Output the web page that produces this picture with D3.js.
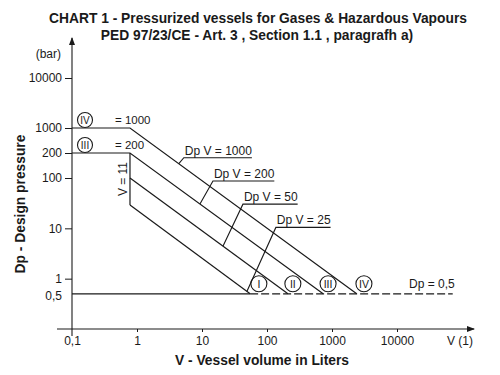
<!DOCTYPE html>
<html>
<head>
<meta charset="utf-8">
<script src="https://cdn.jsdelivr.net/npm/d3@7"></script>
<style>
  body { margin: 0; background: #fff; }
  svg { display: block; }
</style>
</head>
<body>
<div id="chart_container"></div>
<script>
// axis ticks
const xTicks = [0.1, 1, 10, 100, 1000, 10000];
const xTickLabels = ['0,1', '1', '10', '100', '1000', '10000'];
const yTicks = [0.5, 1, 10, 100, 200, 1000, 10000];
const yTickLabels = ['0,5', '1', '10', '100', '200', '1000', '10000'];

// category boundaries, points are [volume (l), pressure (bar)]
const lineIV = [[0.1, 1000], [0.78, 1000], [2400, 0.5]];
const lineIII = [[0.1, 200], [0.78, 200], [730, 0.5]];
const lineII = [[0.78, 100], [210, 0.5]];
const lineI = [[0.78, 29], [55, 0.5]];
const lineV1 = [[0.78, 200], [0.78, 29]];
const limitDp = [[0.1, 0.5], [55, 0.5]];
const limitDpDashed = [[55, 0.5], [72000, 0.5]];

// circled categories along Dp = 0,5
const categories = ['I', 'II', 'III', 'IV'];
const categoryVolumes = [75, 250, 870, 3100];

// Dp V labels, volume where the leader touches its line
const dpLabels = ['Dp V = 1000', 'Dp V = 200', 'Dp V = 50', 'Dp V = 25'];
const dpLabelVolumes = [4.4, 9.3, 21, 49];

const width = 500;
const height = 375;
const font = 'Liberation Sans, Arial, Helvetica, sans-serif';
const ink = '#1a1a1a';

var svg = d3.select('#chart_container')
    .append('svg')
    .attr('width', width)
    .attr('height', height);

// the 200 bar level sits half way between 100 and 1000 in the original drawing
const x = d3.scaleLog().domain([0.1, 10000]).range([72, 397]);
const y = d3.scaleLog().domain([0.1, 100, 200, 1000, 10000]).range([329, 178, 153, 128, 78]);

var defs = svg.append('defs');
defs.append('marker')
    .attr('id', 'arrow')
    .attr('viewBox', '0 0 8 6')
    .attr('refX', 7)
    .attr('refY', 3)
    .attr('markerWidth', 8)
    .attr('markerHeight', 6)
    .attr('markerUnits', 'userSpaceOnUse')
    .attr('orient', 'auto')
    .append('path')
    .attr('d', 'M0,0 L8,3 L0,6 Z')
    .attr('fill', ink);

// titles
svg.append('text')
    .attr('x', 258)
    .attr('y', 23)
    .attr('text-anchor', 'middle')
    .attr('font-family', font)
    .attr('font-weight', 'bold')
    .attr('font-size', '13.8px')
    .attr('fill', ink)
    .text('CHART 1 - Pressurized vessels for Gases & Hazardous Vapours');

svg.append('text')
    .attr('x', 257)
    .attr('y', 40)
    .attr('text-anchor', 'middle')
    .attr('font-family', font)
    .attr('font-weight', 'bold')
    .attr('font-size', '13.8px')
    .attr('fill', ink)
    .text('PED 97/23/CE - Art. 3 , Section 1.1 , paragrafh a)');

// axes
var xAxis = svg.append('g')
    .attr('transform', 'translate(0,' + y(0.1) + ')')
    .call(d3.axisBottom(x)
        .tickValues(xTicks)
        .tickFormat((d, i) => xTickLabels[i])
        .tickSize(3)
        .tickPadding(4));

var yAxis = svg.append('g')
    .attr('transform', 'translate(' + x(0.1) + ',0)')
    .call(d3.axisLeft(y)
        .tickValues(yTicks)
        .tickFormat((d, i) => yTickLabels[i])
        .tickSize(7)
        .tickPadding(3));

[xAxis, yAxis].forEach(function(a) {
    a.select('.domain').remove();
    a.selectAll('line').attr('stroke', ink);
    a.selectAll('text')
        .attr('font-family', font)
        .attr('font-size', '12px')
        .attr('fill', ink);
});
xAxis.selectAll('.tick').filter(d => d == 0.1).select('line').remove();
yAxis.selectAll('.tick').filter(d => d == 0.5).select('line').remove();
yAxis.selectAll('.tick').filter(d => d == 0.5).select('text').attr('dy', '0.5em');

svg.append('line')
    .attr('x1', 57)
    .attr('y1', y(0.1))
    .attr('x2', 474)
    .attr('y2', y(0.1))
    .attr('stroke', ink)
    .attr('stroke-width', 1.1)
    .attr('marker-end', 'url(#arrow)');

svg.append('line')
    .attr('x1', x(0.1))
    .attr('y1', 336)
    .attr('x2', x(0.1))
    .attr('y2', 38)
    .attr('stroke', ink)
    .attr('stroke-width', 1.1)
    .attr('marker-end', 'url(#arrow)');

svg.append('text')
    .attr('x', 61)
    .attr('y', 58)
    .attr('text-anchor', 'end')
    .attr('font-family', font)
    .attr('font-size', '12px')
    .attr('fill', ink)
    .text('(bar)');

svg.append('text')
    .attr('x', 447)
    .attr('y', 345)
    .attr('font-family', font)
    .attr('font-size', '12px')
    .attr('fill', ink)
    .text('V (1)');

svg.append('text')
    .attr('x', 262)
    .attr('y', 365)
    .attr('text-anchor', 'middle')
    .attr('font-family', font)
    .attr('font-weight', 'bold')
    .attr('font-size', '13.8px')
    .attr('fill', ink)
    .text('V - Vessel volume in Liters');

svg.append('text')
    .attr('transform', 'translate(25,204) rotate(-90)')
    .attr('text-anchor', 'middle')
    .attr('font-family', font)
    .attr('font-weight', 'bold')
    .attr('font-size', '13.8px')
    .attr('fill', ink)
    .text('Dp - Design pressure');

// boundary lines
const line = d3.line()
    .x(d => x(d[0]))
    .y(d => y(d[1]));

const solidLines = [lineIV, lineIII, lineII, lineI, lineV1, limitDp];
const diagonals = [lineIV, lineIII, lineII, lineI];

svg.selectAll('.boundary')
    .data(solidLines)
    .enter()
    .append('path')
    .attr('class', 'boundary')
    .attr('d', line)
    .attr('fill', 'none')
    .attr('stroke', ink)
    .attr('stroke-width', 1.2);

svg.append('path')
    .attr('d', line(limitDpDashed))
    .attr('fill', 'none')
    .attr('stroke', ink)
    .attr('stroke-width', 1.2)
    .attr('stroke-dasharray', '8,3');

svg.append('text')
    .attr('x', 409)
    .attr('y', 288)
    .attr('font-family', font)
    .attr('font-size', '12px')
    .attr('fill', ink)
    .text('Dp = 0,5');

// level labels on the horizontal parts
const levels = [
    { text: '= 1000', p: 1000, mark: 'IV' },
    { text: '= 200', p: 200, mark: 'III' }
];

for (let i = 0; i < levels.length; i++) {
    svg.append('text')
        .attr('x', x(0.78) - 15)
        .attr('y', y(levels[i].p) - 4)
        .attr('font-family', font)
        .attr('font-size', '11.5px')
        .attr('fill', ink)
        .text(levels[i].text);

    svg.append('circle')
        .attr('cx', x(0.1) + 13)
        .attr('cy', y(levels[i].p) - 8)
        .attr('r', 7.5)
        .attr('fill', '#fff')
        .attr('stroke', ink)
        .attr('stroke-width', 1.1);

    svg.append('text')
        .attr('x', x(0.1) + 13)
        .attr('y', y(levels[i].p) - 8)
        .attr('dy', '0.36em')
        .attr('text-anchor', 'middle')
        .attr('font-family', font)
        .attr('font-size', '10px')
        .attr('fill', ink)
        .text(levels[i].mark);
}

svg.append('text')
    .attr('transform', 'translate(' + (x(0.78) - 3) + ',' + ((y(200) + y(29)) / 2) + ') rotate(-90)')
    .attr('text-anchor', 'middle')
    .attr('font-family', font)
    .attr('font-size', '12px')
    .attr('fill', ink)
    .text('V = 11');

// circled categories
for (let i = 0; i < categories.length; i++) {
    svg.append('circle')
        .attr('cx', x(categoryVolumes[i]))
        .attr('cy', y(0.5) - 10)
        .attr('r', 8)
        .attr('fill', '#fff')
        .attr('stroke', ink)
        .attr('stroke-width', 1.1);

    svg.append('text')
        .attr('x', x(categoryVolumes[i]))
        .attr('y', y(0.5) - 10)
        .attr('dy', '0.36em')
        .attr('text-anchor', 'middle')
        .attr('font-family', font)
        .attr('font-size', '10.5px')
        .attr('fill', ink)
        .text(categories[i]);
}

// Dp V labels with leader and underline
const leaderOffsets = [[5, -6], [13, -23], [20, -42], [29, -64]];

function pointOnDiagonal(pts, v) {
    const a = pts[pts.length - 2];
    const b = pts[pts.length - 1];
    const t = (x(v) - x(a[0])) / (x(b[0]) - x(a[0]));
    return [x(v), y(a[1]) + t * (y(b[1]) - y(a[1]))];
}

for (let i = 0; i < dpLabels.length; i++) {
    const p = pointOnDiagonal(diagonals[i], dpLabelVolumes[i]);
    const tx = p[0] + leaderOffsets[i][0];
    const ty = p[1] + leaderOffsets[i][1];

    var label = svg.append('text')
        .attr('x', tx + 1)
        .attr('y', ty - 3)
        .attr('font-family', font)
        .attr('font-size', '12px')
        .attr('fill', ink)
        .text(dpLabels[i]);

    const w = label.node().getComputedTextLength();

    svg.append('path')
        .attr('d', 'M' + p[0] + ',' + p[1] + 'L' + tx + ',' + ty + 'L' + (tx + w + 1) + ',' + ty)
        .attr('fill', 'none')
        .attr('stroke', ink)
        .attr('stroke-width', 1.1);
}
</script>
</body>
</html>
